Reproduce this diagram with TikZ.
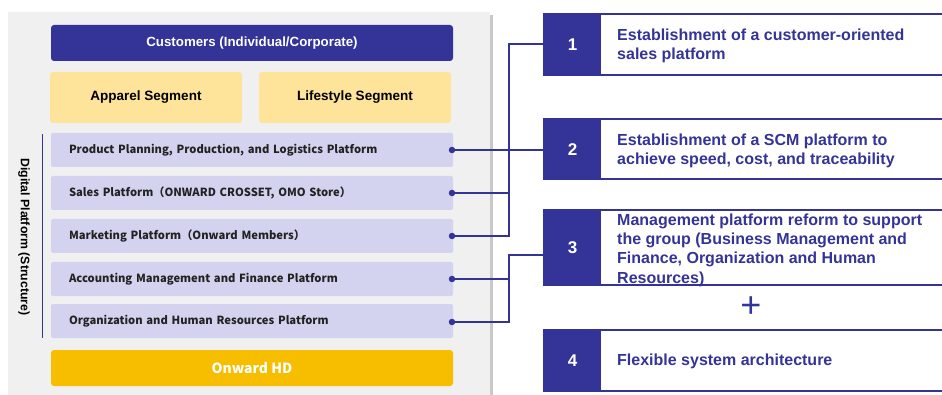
\documentclass[tikz,border=0pt]{standalone}
\usepackage{fontspec}
\setmainfont{Liberation Sans}
\newfontfamily\jpfont{Noto Sans CJK JP}
\usetikzlibrary{calc}
\definecolor{navy}{HTML}{343397}
\definecolor{panelgray}{HTML}{F0F0F0}
\definecolor{shadowgray}{HTML}{C8C8C8}
\definecolor{segyellow}{HTML}{FDE49A}
\definecolor{rowlav}{HTML}{D3D3F0}
\definecolor{hdgold}{HTML}{F7BE00}
\definecolor{rowtext}{HTML}{222222}
\tikzset{
  rowbox/.style={fill=rowlav, rounded corners=2pt, minimum width=402pt, minimum height=34pt,
    text width=366pt, align=left, inner sep=0pt, font=\jpfont\bfseries\fontsize{11.2}{13}\selectfont, text=rowtext},
  segbox/.style={fill=segyellow, rounded corners=3pt, minimum width=192pt, minimum height=51pt,
    font=\bfseries\fontsize{13.5}{15}\selectfont, text=black},
  numbox/.style={fill=navy, minimum width=57pt, inner sep=0pt, text=white, font=\bfseries\fontsize{17}{19}\selectfont},
  goaltext/.style={anchor=west, text=navy, align=left, inner sep=0pt,
    font=\bfseries\fontsize{16}{19.3}\selectfont},
  goalframe/.style={draw=navy, line width=1.3pt},
  link/.style={draw=navy, line width=1.3pt},
  dot/.style={circle, fill=navy, inner sep=0pt, minimum size=6.5pt}
}
\begin{document}
\begin{tikzpicture}[x=1pt, y=-1pt]
\useasboundingbox (0,0) rectangle (942,395);
% background panel with its shadow
\fill[shadowgray] (490,15) rectangle (493,395);
\fill[panelgray] (8,12) rectangle (490,395);

% customers and segments
\node[fill=navy, rounded corners=3pt, minimum width=402pt, minimum height=36pt, text=white,
  font=\bfseries\fontsize{13.3}{15}\selectfont] (cust) at (252,43) {Customers (Individual/Corporate)};
\node[segbox] (apparel) at (146,97.5) {Apparel Segment};
\node[segbox] (lifestyle) at (355,97.5) {Lifestyle Segment};

% platform rows
\node[rowbox] (p1) at (252,150) {Product Planning, Production, and Logistics Platform};
\node[rowbox] (p2) at (252,193) {Sales Platform（ONWARD CROSSET, OMO Store）};
\node[rowbox] (p3) at (252,236) {Marketing Platform（Onward Members）};
\node[rowbox] (p4) at (252,279) {Accounting Management and Finance Platform};
\node[rowbox] (p5) at (252,321) {Organization and Human Resources Platform};

\node[fill=hdgold, rounded corners=3pt, minimum width=402pt, minimum height=36pt, text=white,
  font=\jpfont\bfseries\fontsize{14}{16}\selectfont] (hd) at (252,368) {Onward HD};

% structure bracket
\coordinate (brtop) at (42,134);
\coordinate (brbot) at (42,338);
\draw[navy, line width=1pt] (brtop) -- (brbot);
\node[rotate=-90, font=\bfseries\fontsize{12.3}{14}\selectfont, text=black] (dp) at (24,237) {Digital Platform (Structure)};

% dots on the rows
\node[dot] (d1) at (452,150) {};
\node[dot] (d2) at (452,193) {};
\node[dot] (d3) at (452,236) {};
\node[dot] (d4) at (452,279) {};
\node[dot] (d5) at (452,322) {};

% goal boxes
\draw[goalframe] (544,14) rectangle (945,75);
\draw[goalframe] (544,119) rectangle (945,179);
\draw[goalframe] (544,210) rectangle (945,285);
\draw[goalframe] (544,330) rectangle (945,391);
\node[numbox, minimum height=61pt, anchor=north west] (n1) at (544,14) {1};
\node[numbox, minimum height=60pt, anchor=north west] (n2) at (544,119) {2};
\node[numbox, minimum height=75pt, anchor=north west] (n3) at (544,210) {3};
\node[numbox, minimum height=61pt, anchor=north west] (n4) at (544,330) {4};

\node[goaltext] (g1) at (617,46) {Establishment of a customer-oriented\\sales platform};
\node[goaltext] (g2) at (617,151) {Establishment of a SCM platform to\\achieve speed, cost, and traceability};
\node[goaltext] (g3) at (617,250) {Management platform reform to support\\the group (Business Management and\\Finance, Organization and Human\\Resources)};
\node[goaltext] (g4) at (617,361) {Flexible system architecture};

% plus sign
\node[text=navy, font=\fontsize{36}{36}\selectfont, inner sep=0pt] (plus) at (751,307) {+};

% connectors
\coordinate (j1) at (509,44);
\coordinate (j3) at (509,255);
\draw[link] (n1.west |- j1) -- (j1) |- (d3.center);
\draw[link] (d2.center) -- (d2.center -| j1);
\draw[link] (d1.center) -- (n2.west |- d1);
\draw[link] (n3.west |- j3) -- (j3) |- (d5.center);
\draw[link] (d4.center) -- (d4.center -| j3);
\end{tikzpicture}
\end{document}
